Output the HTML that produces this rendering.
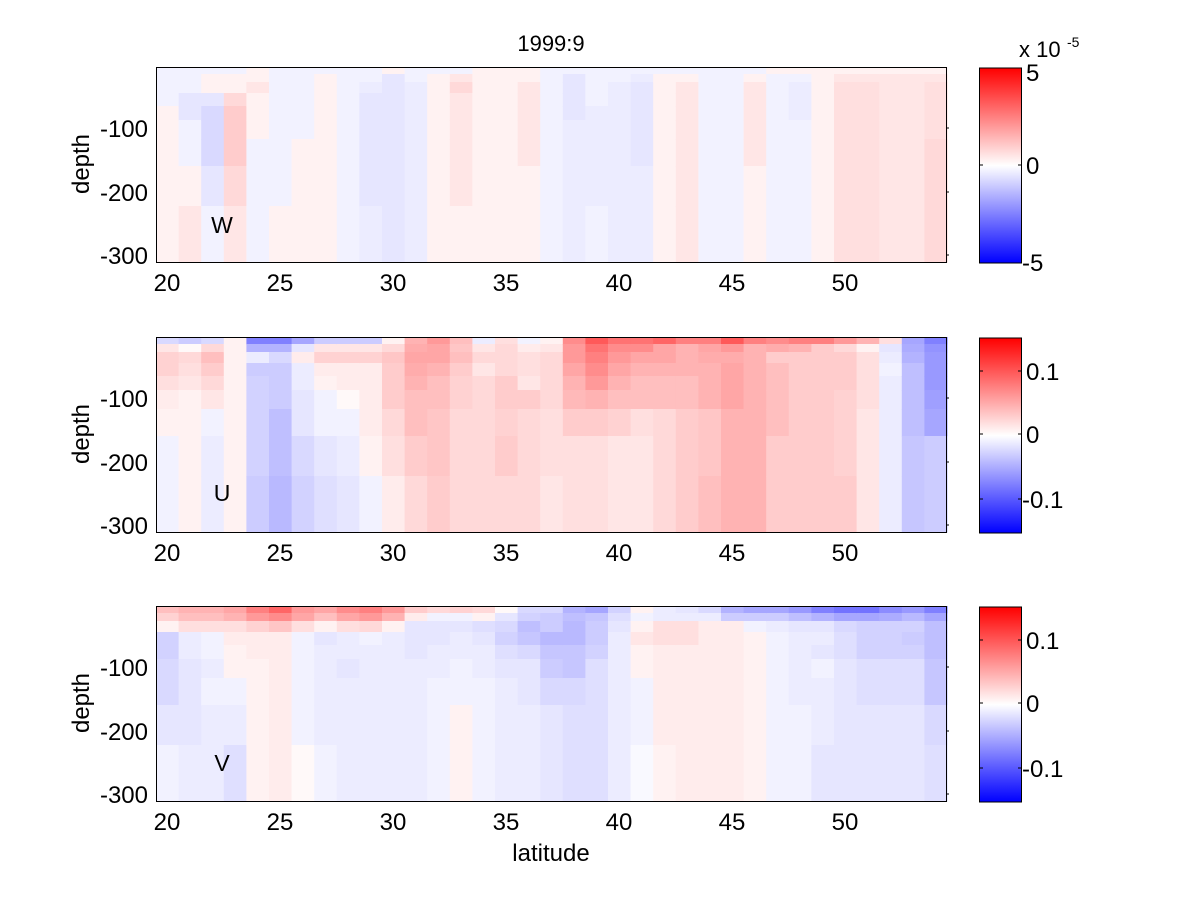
<!DOCTYPE html>
<html><head><meta charset="utf-8"><style>
html,body{margin:0;padding:0;background:#fff;}
svg text{font-family:"Liberation Sans",Arial,sans-serif;fill:#000;}
</style></head><body>
<svg id="s" width="1200" height="900" xmlns="http://www.w3.org/2000/svg">
<defs>
<linearGradient id="cb" x1="0" y1="0" x2="0" y2="1">
<stop offset="0" stop-color="#ff0000"/><stop offset="0.5" stop-color="#ffffff"/><stop offset="1" stop-color="#0000ff"/>
</linearGradient>
</defs>
<g id="cells"></g>
<g id="axes" fill="none" stroke="#000" stroke-width="1"></g>
<text x="551" y="51" font-size="22" text-anchor="middle">1999:9</text>
<text x="551" y="861" font-size="24" text-anchor="middle">latitude</text>
<text x="222" y="233" font-size="23" text-anchor="middle">W</text>
<text x="222" y="501" font-size="23" text-anchor="middle">U</text>
<text x="222" y="771" font-size="23" text-anchor="middle">V</text>
<text x="1019" y="57" font-size="22">x 10</text>
<text x="1067" y="47" font-size="14">-5</text>
<g id="lbl"></g>
</svg>
<script>
var W=[
[-1,-1,-1,-1,1,1,1,1,1],[-1,-1,-1,-2,-2,-1,-1,1,2],[-1,1,1,-2,-3,-3,-3,-2,-1],[-1,1,1,3,4,4,4,3,2],
[1,1,2,1,1,1,-1,-1,-1],[-1,-1,-1,-1,-1,-1,-1,-1,1],[-1,-1,-1,-1,-1,-1,1,1,1],[-1,1,1,1,1,1,1,1,1],
[-1,-1,-1,-1,-1,-1,-1,-1,-1],[-1,-1,-1.5,-2,-2,-2,-2,-2,-1.5],[1,-2,-2,-2,-2,-2,-2,-2,-2],[-1,-1,-1.5,-1.5,-1.5,-1.5,-1.5,-1.5,-1.5],
[-1,1,1,1,1,1,1,1,1],[-1,2,3,2,2,2,2,2,1],[1,1,1,1,1,1,1,1,1],[1,1,1,1,1,1,1,1,1],
[1,1,2,2,2,2,2,1,1],[-1,-1,-1,-1,-1,-1,-1,-1,-1],[-1,-2,-2,-2,-2,-1.5,-1.5,-1.5,-1.5],[-1,-1,-1,-1,-1.5,-1.5,-1.5,-1.5,-1],
[-1,-1,-1.5,-1.5,-1.5,-1.5,-1.5,-1.5,-1.5],[-1,-1.5,-2,-2,-2,-2,-2,-1.5,-1.5],[-1,1,1,1,1,1,1,1,1],[-1,1,2,2,2,2,2,2,2],
[-1,-1,-1,-1,-1,-1,-1,-1,-1],[-1,-1,-1,-1,-1,-1,-1,-1,-1],[-1,1,2,2,2,2,2,1,1],[1,-1,-1,-1,-1,-1,-1,-1,-1],
[1,-1,-1.5,-1.5,-1.5,-1,-1,-1,-1],[1,1,1,1,1,1,1,1,1],[1,2,2.5,2.5,2.5,2.5,2.5,2.5,2.5],[1,2,2.5,2.5,2.5,2.5,2.5,2.5,2.5],
[1,2,2,2,2,2,2,2,2],[1,2,2,2,2,2,2,2,2],[1,2,2.5,2.5,2.5,2.5,3,3,3]];
var U=[
[-3,2,3.5,3.5,2.5,1.5,1,-1,-1],[-4,0.5,3,2.5,2,1,1,1,1],[-3,3,5,4,3,2,-1,-1.5,-1.5],[1,1,1,1,1,1,1,1,1],
[-10,-6,-1.5,-4,-3.5,-3.5,-3.5,-3.5,-4],[-10,-6,-3,-4,-4,-4,-5,-5,-5.5],[-7,-2,1.5,-1.5,-1.5,-2,-2,-3,-3.5],[-4,2,3.5,1.5,1,-1,-1,-2,-2.5],
[-4,2,3.5,1.5,1.5,0.5,-1,-1.5,-2],[-4,2,3.5,1.5,1.5,1.5,1.5,1,-1],[1,3,4.5,4,4,4,3,2.5,1.5],[6,6.5,7,6.5,6,5,5,4,3],
[8,7,7,6,5,5,4.5,4.5,4],[5,4.5,5,4,3.5,3.5,3,3,3],[-1.5,2,3,2,3,3,3,3,3],[2.5,3,3,3,4,4,3.5,4,3],
[-1,1.5,2.5,2.5,2,4,3,3,3],[1,2,3,3,3,3,2.5,2.5,2],[9,8,8,7,6,5.5,4,2.5,2.5],[13,11,10,9,8,6,4,2.5,2.5],
[11,9,8,7,6,5,3.5,2,2],[11,9,7,6,5,5,2.5,2,2],[12,7,7,6,5,5,3,3,3],[10,6,6,6,5,5,4,4,4],
[10,7,6.5,6,6,6,4.5,4.5,5],[13,8,6.5,7,7,7,6,6,6],[10,6,6,6,6,6,6,6,6],[9,6.5,4,5,5,5,5,4,4],
[10,6,4,4,4,4,4,4,4],[10,4,4,4,4,4,4,4,4],[8,3,4,4,4,3.5,3.5,3.5,4],[6,1,2.5,2.5,2.5,2.5,2,2,2],
[2.5,-2,-1.5,-1,-1.5,-1.5,-1.5,-1.5,-1.5],[-7,-6.5,-6,-5,-5,-5,-5,-4.5,-4.5],[-10,-8.5,-8,-8,-8,-7.5,-7,-4,-4]];
var V=[
[5,3.5,1,-3.5,-3.5,-3,-3,-2,-1],[6,5,2.5,-1.5,-1.5,-2,-2,-2,-1.5],[6,5,2.5,-1,-1,-1.5,-1,-1.5,-1.5],[7,6,2.5,1.5,1,1,-1,-1.5,-2.5],
[10,8,3.5,1.5,1.5,1,1,1,1],[12,9,4.5,1.5,1.5,1.5,1.5,1.5,1.5],[8,7,2.5,-1,-1,-1,-1,-1,0.5],[7,5,1,-2,-1.5,-1.5,-1.5,-1.5,-1],
[9,7,2.5,-1.5,-1.5,-2,-1.5,-1.5,-1.5],[10,8,3,-1,-1.5,-1.5,-1.5,-1.5,-1.5],[8,6,1,-1.5,-1.5,-1.5,-1.5,-1.5,-1.5],[4,1.5,-2,-2,-2,-1.5,-1.5,-1.5,-1.5],
[3,-1,-2,-2,-1.5,-1.5,-1,-1,-1],[3.5,-1,-2,-1.5,-1.5,-1,-1,1,1],[3,1,-2.5,-2,-1.5,-1.5,-1,-1,-1],[0.5,-2,-3,-3.5,-2.5,-2,-1.5,-1.5,-1.5],
[-3,-3.5,-5,-4.5,-3,-2,-2,-1.5,-1.5],[-3,-4,-4,-5.5,-4.5,-4,-3,-2,-2],[-6,-5,-5.5,-5.5,-4.5,-4.5,-3,-2.5,-2.5],[-7,-4.5,-4,-4,-3.5,-2.5,-2.5,-2.5,-2.5],
[-3.5,-2.5,-2,-1.5,-1.5,-1.5,-1.5,-1.5,-1.5],[1,-1,1,2,1,1,-1,-1,-0.5],[-1.5,-1.5,2.5,2.5,1.5,1.5,1.5,1.5,1],[-2,-1.5,2.5,2.5,1.5,1.5,1.5,1.5,1.5],
[-3,-1.5,1.5,1.5,1.5,1.5,1.5,1.5,1.5],[-6,-4,1.5,1.5,1.5,1.5,1.5,1.5,1.5],[-7,-4,-1,1,1,1,1,1,1],[-7,-4,-1.5,-1,-1,-1,-1,-1,-1],
[-8,-5,-2,-1.5,-1.5,-1.5,-1.5,-1,-1],[-10,-6,-2,-1.5,-2,-1,-1.5,-1.5,-2],[-11,-7,-3,-2.5,-2.5,-2,-2,-2,-2],[-11,-7,-3.5,-3.5,-3.5,-2.5,-2.5,-2,-2],
[-9,-6.5,-3.5,-3.5,-3.5,-2.5,-2.5,-2,-2],[-8,-5.5,-3.5,-4,-3.5,-2.5,-2.5,-2,-2],[-10,-7,-5,-5,-5,-4.5,-4.5,-3,-2.5]];
var rowsRel=[0,7,15,26,39,53,72,99,139,195];
var tops=[67,337,606];
var NS="http://www.w3.org/2000/svg";
function col(n){var f=Math.max(0,Math.min(1,Math.abs(n)/20));var c=Math.round(255*(1-f));return n>=0?"rgb(255,"+c+","+c+")":"rgb("+c+","+c+",255)";}
var g=document.getElementById("cells"),ax=document.getElementById("axes"),lb=document.getElementById("lbl");
function el(p,t,a){var e=document.createElementNS(NS,t);for(var k in a)e.setAttribute(k,a[k]);p.appendChild(e);return e;}
function txt(x,y,s,anchor,size){var e=el(lb,"text",{x:x,y:y,"font-size":size||24,"text-anchor":anchor||"middle"});e.textContent=s;}
[W,U,V].forEach(function(D,p){
  var T=tops[p];
  for(var i=0;i<35;i++){var x0=156+22.6*i;
    for(var r=0;r<9;r++){
      el(g,"rect",{x:x0.toFixed(1),y:T+rowsRel[r],width:23.2,height:rowsRel[r+1]-rowsRel[r]+0.6,fill:col(D[i][r])});
    }}
  el(ax,"rect",{x:156.5,y:T+0.5,width:790,height:195});
  for(var v=20;v<=50;v+=5){var x=167+22.6*(v-20);
    txt(x,T+224,String(v));}
  [[-100,61],[-200,125],[-300,188]].forEach(function(d){var y=T+d[1];
    el(ax,"line",{x1:946,y1:y,x2:949,y2:y});
    txt(148,y+9,String(d[0]),"end");});
  var e=el(lb,"text",{x:0,y:0,"font-size":24,"text-anchor":"middle",transform:"translate(89,"+(T+97)+") rotate(-90)"});e.textContent="depth";
  el(g,"rect",{x:979.5,y:T+1,width:42,height:195,fill:"url(#cb)"});
  el(ax,"rect",{x:979.5,y:T+1,width:42,height:195});
  if(p==0){txt(1026,T+14,"5","start",24);txt(1026,T+107,"0","start",24);txt(1022,T+204,"-5","start",24);
    el(ax,"line",{x1:979.5,y1:T+98,x2:983,y2:T+98});el(ax,"line",{x1:1021.5,y1:T+98,x2:1018,y2:T+98});}
  else{[[0.1,34,"0.1"],[0,97,"0"],[-0.1,162,"-0.1"]].forEach(function(d){var y=T+d[1];
    el(ax,"line",{x1:979.5,y1:y,x2:983,y2:y});el(ax,"line",{x1:1021.5,y1:y,x2:1018,y2:y});
    txt(d[0]<0?1022:1026,y+9,d[2],"start",24);});}
});
</script>
</body></html>
